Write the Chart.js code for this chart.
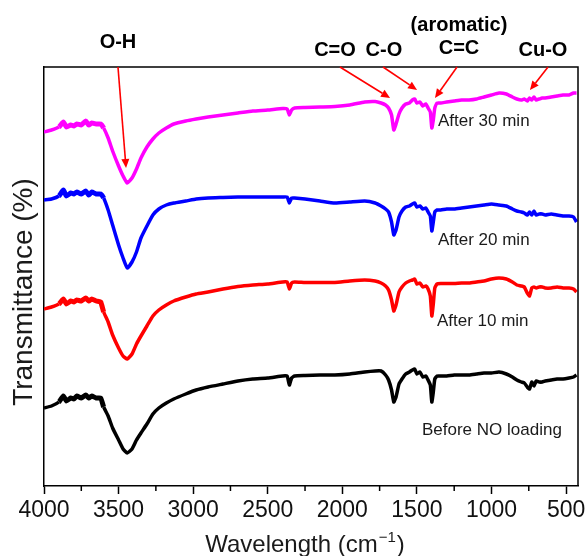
<!DOCTYPE html>
<html>
<head>
<meta charset="utf-8">
<script src="https://cdn.jsdelivr.net/npm/chart.js@4.4.1/dist/chart.umd.min.js"></script>
<style>
  body { margin: 0; background: #fff; }
  #wrap { width: 586px; height: 556px; }
</style>
</head>
<body>
<div id="wrap"><canvas id="ftir"></canvas></div>
<script>
// wavenumber grid (cm-1), shared by all four spectra
const wavenumbers = [4000, 3950, 3900, 3870, 3850, 3820, 3800, 3780, 3750, 3720,
  3700, 3680, 3650, 3620, 3600, 3570, 3540, 3500, 3470, 3442,
  3410, 3380, 3350, 3310, 3270, 3230, 3180, 3130, 3050, 2980,
  2900, 2800, 2700, 2600, 2500, 2400, 2370, 2355, 2340, 2320,
  2250, 2150, 2050, 1950, 1850, 1780, 1740, 1710, 1690, 1670,
  1655, 1640, 1620, 1600, 1575, 1550, 1530, 1515, 1500, 1480,
  1460, 1440, 1425, 1410, 1400, 1390, 1380, 1365, 1340, 1300,
  1250, 1200, 1150, 1100, 1050, 1000, 950, 900, 860, 830,
  800, 780, 760, 745, 730, 715, 700, 680, 660, 640,
  600, 560, 520, 480, 450, 430];

// stacked transmittance (offset, a.u.)
const after30 = [354, 356, 359, 364, 359, 361, 360, 362, 361, 365,
  361, 363, 362, 362, 358, 348, 335, 320, 310, 303,
  308, 317, 328, 339, 347, 353, 358, 362, 365, 367,
  369, 371, 373, 375, 376, 377.5, 377, 371, 376, 378,
  378.5, 379, 379.5, 381, 384, 384.5, 383, 381, 378, 371,
  356, 362, 372, 378, 382, 383, 386, 387, 383, 384,
  380, 382, 378, 374, 358, 366, 378, 383, 383, 384,
  385, 386, 386, 387, 389, 391, 393, 392, 389, 387,
  386, 387, 385, 388, 386, 389, 386, 387, 388, 388,
  389, 390, 391, 391, 393, 393];
const after20 = [286, 287, 290, 296, 290, 293, 292, 294, 292, 295,
  291, 294, 292, 292, 288, 276, 261, 241, 228, 218,
  224, 234, 248, 260, 271, 277, 281, 283, 285, 287,
  288, 288.5, 289, 289, 289, 289, 289, 283, 288, 288,
  287, 285, 283, 284, 285, 283, 280, 277, 274, 264,
  251, 256, 269, 275, 279, 280, 282, 283, 279, 280,
  277, 278, 274, 270, 255, 264, 274, 276, 276, 277,
  277, 278, 279, 280, 281, 282, 281, 280, 277, 275,
  274, 273, 271, 274, 271, 275, 271, 272, 272, 271,
  272, 271, 270, 270, 269, 264];
const after10 = [177, 179, 182, 187, 182, 185, 184, 186, 185, 188,
  185, 187, 185, 184, 174, 164, 151, 138, 130, 127,
  132, 142, 150, 160, 170, 176, 181, 185, 189, 192,
  194, 197, 199.5, 201, 202, 204, 204, 197, 203, 204,
  203.5, 203.5, 203.5, 205, 206, 205, 203, 200, 196, 186,
  175, 181, 194, 199, 203, 205, 206, 207, 202, 203,
  199, 200, 197, 190, 170, 182, 198, 202, 202.5, 202.5,
  202.5, 203, 203, 204, 205, 207, 208, 207, 204, 201,
  200, 199, 193, 190, 198, 199, 198, 199, 199, 198,
  198, 199, 198, 198, 197, 194];
const beforeNO = [78, 80, 84, 90, 85, 88, 87, 90, 88, 91,
  88, 90, 88, 88, 79, 70, 58, 46, 37, 33,
  37, 46, 53, 62, 72, 78, 83, 87, 92, 96,
  99, 102, 105, 107, 108, 110, 110, 101, 108, 110,
  110.5, 111, 111, 112, 114, 115, 115, 111, 106, 96,
  84, 89, 102, 107, 112, 114, 116, 117, 112, 114,
  109, 110, 106, 101, 84, 94, 107, 110, 110, 110,
  111, 111, 111, 112, 113, 113, 114, 112, 109, 106,
  104, 103, 99, 97, 104, 100, 105, 104, 104, 105,
  106, 107, 107, 108, 109, 111];

const seriesLabels = ['After 30 min', 'After 20 min', 'After 10 min', 'Before NO loading'];
const seriesColors = ['#ff00ff', '#0000ff', '#ff0000', '#000000'];
const tickValues = [500, 1000, 1500, 2000, 2500, 3000, 3500, 4000];
const minorTicks = [750, 1250, 1750, 2250, 2750, 3250, 3750];

// where each curve label goes: [wavenumber of left edge, offset value]
const curveLabelAt = [[1359, 365], [1359, 246], [1366, 165], [1466, 56]];

// peak assignments: text position + arrow tail/head (wavenumber / offset)
const peaks = [
  { text: 'O-H', tx: 3504, ty: -25, from: 3504, to: [3450, 318] },
  { text: 'C=O', tx: 2049, ty: -17, from: 2016, to: [1680, 388] },
  { text: 'C-O', tx: 1721, ty: -17, from: 1727, to: [1499, 396] },
  { text: '(aromatic)', tx: 1218, ty: -42 },
  { text: 'C=C', tx: 1218, ty: -19, from: 1231, to: [1379, 388] },
  { text: 'Cu-O', tx: 655, ty: -17, from: 621, to: [742, 396] }
];

const seriesValues = [after30, after20, after10, beforeNO];

function arrow(ctx, x1, y1, x2, y2) {
  const a = Math.atan2(y2 - y1, x2 - x1);
  const L = 9, W = 4;
  ctx.beginPath();
  ctx.moveTo(x1, y1);
  ctx.lineTo(x2 - L * Math.cos(a), y2 - L * Math.sin(a));
  ctx.stroke();
  ctx.beginPath();
  ctx.moveTo(x2, y2);
  ctx.lineTo(x2 - L * Math.cos(a) + W * Math.sin(a), y2 - L * Math.sin(a) - W * Math.cos(a));
  ctx.lineTo(x2 - L * Math.cos(a) - W * Math.sin(a), y2 - L * Math.sin(a) + W * Math.cos(a));
  ctx.closePath();
  ctx.fill();
}

const extras = {
  id: 'extras',
  afterDraw(chart) {
    const { ctx, chartArea: area, scales: { x, y } } = chart;
    ctx.save();

    // top + right frame
    ctx.strokeStyle = '#000';
    ctx.lineWidth = 1.5;
    ctx.beginPath();
    ctx.moveTo(area.left, area.top);
    ctx.lineTo(area.right, area.top);
    ctx.lineTo(area.right, area.bottom);
    ctx.stroke();

    // minor ticks
    minorTicks.forEach(v => {
      const px = x.getPixelForValue(v);
      ctx.beginPath();
      ctx.moveTo(px, area.bottom);
      ctx.lineTo(px, area.bottom + 5);
      ctx.stroke();
    });

    // peak labels and arrows
    ctx.font = 'bold 20px "Liberation Sans", Arial, sans-serif';
    ctx.textAlign = 'center';
    ctx.textBaseline = 'middle';
    peaks.forEach(p => {
      ctx.fillStyle = '#000';
      ctx.fillText(p.text, x.getPixelForValue(p.tx), area.top + p.ty);
      if (p.from) {
        ctx.strokeStyle = '#ff0000';
        ctx.fillStyle = '#ff0000';
        ctx.lineWidth = 1.6;
        arrow(ctx, x.getPixelForValue(p.from), area.top,
          x.getPixelForValue(p.to[0]), y.getPixelForValue(p.to[1]));
      }
    });

    // curve labels
    ctx.fillStyle = '#1a1a1a';
    ctx.font = '17px "Liberation Sans", Arial, sans-serif';
    ctx.textAlign = 'left';
    seriesLabels.forEach((t, i) => {
      const [wn, v] = curveLabelAt[i];
      ctx.fillText(t, x.getPixelForValue(wn), y.getPixelForValue(v));
    });

    // y title
    ctx.save();
    ctx.translate(24, 292);
    ctx.rotate(-Math.PI / 2);
    ctx.textAlign = 'center';
    ctx.font = '28px "Liberation Sans", Arial, sans-serif';
    ctx.fillText('Transmittance (%)', 0, 0);
    ctx.restore();

    // x title with superscript
    const main = 'Wavelength (cm', sup = '\u22121', tail = ')';
    ctx.textBaseline = 'alphabetic';
    ctx.textAlign = 'left';
    ctx.font = '24px "Liberation Sans", Arial, sans-serif';
    const wMain = ctx.measureText(main).width;
    const wTail = ctx.measureText(tail).width;
    ctx.font = '15px "Liberation Sans", Arial, sans-serif';
    const wSup = ctx.measureText(sup).width;
    let tx = 305 - (wMain + wSup + wTail + 2) / 2;
    const base = 552;
    ctx.font = '24px "Liberation Sans", Arial, sans-serif';
    ctx.fillText(main, tx, base);
    tx += wMain + 1;
    ctx.font = '15px "Liberation Sans", Arial, sans-serif';
    ctx.fillText(sup, tx, base - 10);
    tx += wSup + 1;
    ctx.font = '24px "Liberation Sans", Arial, sans-serif';
    ctx.fillText(tail, tx, base);

    ctx.restore();
  }
};

// noisy high-wavenumber stretch drawn a bit heavier, like the recorded fuzz
const fuzzy = c => {
  const w = c.p0.parsed.x;
  return (w <= 3900 && w >= 3620) ? 5 : 3.5;
};

new Chart(document.getElementById('ftir'), {
  type: 'line',
  data: {
    datasets: seriesValues.map((vals, i) => ({
      label: seriesLabels[i],
      data: wavenumbers.map((w, j) => ({ x: w, y: vals[j] })),
      borderColor: seriesColors[i],
      borderWidth: 3.5,
      segment: { borderWidth: fuzzy },
      pointRadius: 0,
      tension: 0.15,
      fill: false
    }))
  },
  options: {
    responsive: true,
    maintainAspectRatio: false,
    animation: false,
    devicePixelRatio: 1,
    layout: { padding: { top: 67, right: 8, left: 0, bottom: 0 } },
    plugins: { legend: { display: false }, tooltip: { enabled: false } },
    scales: {
      x: {
        type: 'linear',
        reverse: true,
        min: 420,
        max: 4000,
        afterBuildTicks: s => { s.ticks = tickValues.map(v => ({ value: v })); },
        afterFit: s => { s.height = 70; s.paddingLeft = 0; s.paddingRight = 0; },
        grid: { display: true, drawOnChartArea: false, drawTicks: true, tickLength: 8, tickWidth: 1.5, tickColor: '#000' },
        border: { display: true, color: '#000', width: 1.5 },
        ticks: {
          color: '#111',
          padding: 3,
          maxRotation: 0,
          callback: v => String(v),
          font: { family: '"Liberation Sans", Arial, sans-serif', size: 23 }
        },
        title: { display: false }
      },
      y: {
        min: 0,
        max: 419,
        afterFit: s => { s.width = 44; },
        grid: { display: false },
        border: { display: true, color: '#000', width: 1.5 },
        ticks: { display: false }
      }
    }
  },
  plugins: [extras]
});
</script>
</body>
</html>
